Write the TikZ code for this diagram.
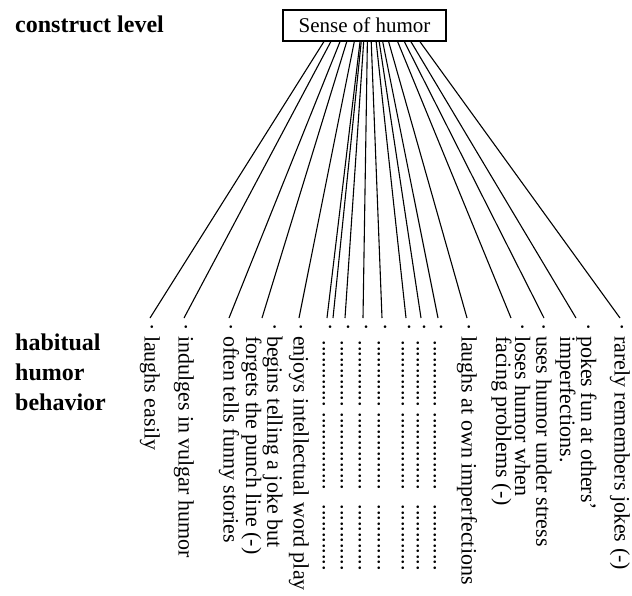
\documentclass[tikz,border=0pt]{standalone}
\usepackage{fontspec}
\setmainfont{Liberation Serif}
\usepackage{tikz}
\usetikzlibrary{calc}
\tikzstyle{construct}=[draw,line width=1.4pt,minimum width=163pt,minimum height=31pt,inner sep=2pt,font=\fontsize{21}{24}\selectfont]
\tikzstyle{indicator}=[rotate=-90,anchor=west,align=left,inner sep=1pt,font=\fontsize{22}{19}\selectfont]
\tikzstyle{tier}=[anchor=north west,align=left,inner sep=0pt,font=\fontsize{24}{30}\selectfont\bfseries]
\tikzstyle{load}=[line width=1.1pt]
\newcommand{\blankrow}{·\hspace{10pt}............\hspace{6pt}..............\hspace{15pt}............}
\newcommand{\cont}{\\\hphantom{·\ }}

\begin{document}
\begin{tikzpicture}[x=1pt,y=-1pt]
\useasboundingbox (0,0) rectangle (632,595);
	\node [tier] (cl) at (15,16) {construct level};
	\node [tier] (hb) at (15,334) {habitual\\humor\\behavior};
	\node [construct] (soh) at (364.5,25.5) {Sense of humor};
\coordinate (apex) at ([xshift=4pt,yshift=71pt]soh.south);
%\coordinate (apex) at ([yshift=70pt]soh.south);
\foreach \n/\x/\txt in {
	1/150/{· laughs easily},
	2/184/{· indulges in vulgar humor},
	3/229/{· often tells funny stories},
	4/262/{· begins telling a joke but\cont forgets the punch line (-)},
	5/299/{· enjoys intellectual word play},
	6/327/{\blankrow},
	7/345/{\blankrow},
	8/363/{\blankrow},
	9/382/{\blankrow},
	10/406/{\blankrow},
	11/421/{\blankrow},
	12/438/{\blankrow},
	13/467/{· laughs at own imperfections},
	14/511/{· loses humor when\cont facing problems (-)},
	15/544/{· uses humor under stress},
	16/576/{· pokes fun at others'\cont imperfections.},
	17/620/{· rarely remembers jokes (-)}}
	\node [indicator] (i\n) at (\x,322) {\txt};
\coordinate (e0) at (333,318);
\foreach \n in {1,...,17}
	\coordinate (e\n) at ([yshift=4pt]i\n.west);
\foreach \n in {0,...,17}
	\draw[load] (intersection of soh.south west--soh.south east and apex--e\n) -- (e\n);
\end{tikzpicture}
\end{document}
